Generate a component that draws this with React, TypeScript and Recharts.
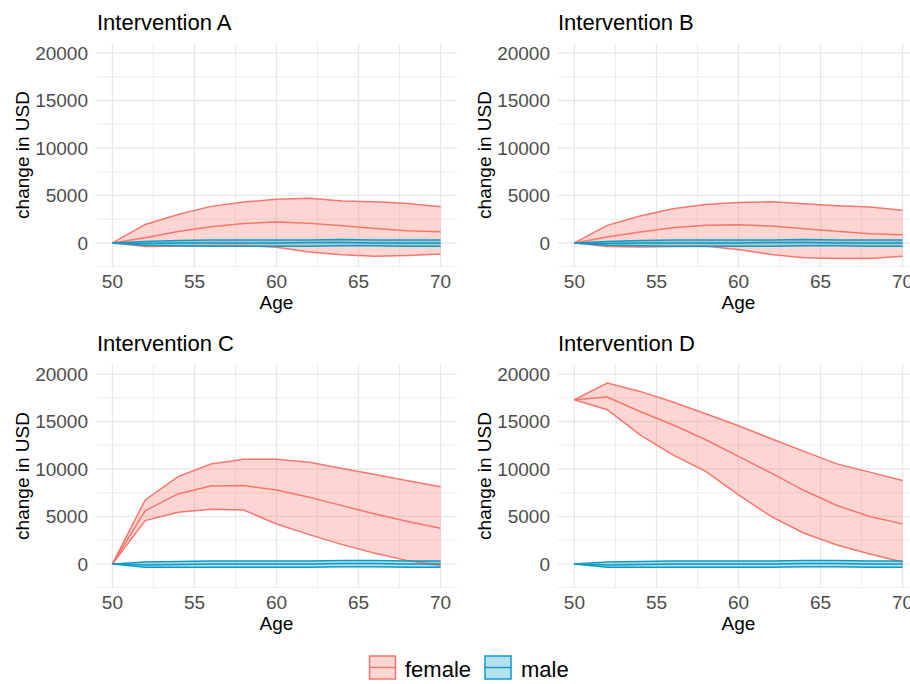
import React from 'react';
import { ComposedChart, Area, Line, XAxis, YAxis, CartesianGrid } from 'recharts';

const ages = [50, 52, 54, 56, 58, 60, 62, 64, 66, 68, 70];
const xTicks = [50, 55, 60, 65, 70];
const xMinor = [52.5, 57.5, 62.5, 67.5];
const yTicks = [0, 5000, 10000, 15000, 20000];
const yMinor = [-2500, 2500, 7500, 12500, 17500];
const panelTitles = ['Intervention A', 'Intervention B', 'Intervention C', 'Intervention D'];
const legendLabels = ['female', 'male'];

// Intervention A
const femaleUpperA = [0, 1950, 3000, 3850, 4300, 4600, 4700, 4420, 4330, 4150, 3800];
const femaleMedianA = [0, 550, 1200, 1700, 2050, 2200, 2080, 1800, 1530, 1280, 1180];
const femaleLowerA = [0, -380, -340, -300, -270, -450, -950, -1250, -1400, -1330, -1170];
const maleUpperA = [0, 150, 250, 300, 300, 300, 300, 350, 300, 300, 300];
const maleMedianA = [0, -50, 0, 0, 0, 0, 50, 50, 0, 0, 0];
const maleLowerA = [0, -250, -300, -350, -350, -350, -350, -300, -300, -350, -350];

// Intervention B
const femaleUpperB = [0, 1850, 2830, 3600, 4060, 4270, 4340, 4130, 3920, 3780, 3430];
const femaleMedianB = [0, 630, 1150, 1610, 1850, 1920, 1780, 1500, 1220, 980, 870];
const femaleLowerB = [0, -380, -420, -380, -350, -700, -1220, -1570, -1640, -1640, -1400];
const maleUpperB = [0, 150, 250, 300, 300, 300, 300, 350, 300, 300, 300];
const maleMedianB = [0, -50, 0, 0, 0, 0, 50, 50, 0, 0, 0];
const maleLowerB = [0, -250, -300, -350, -350, -350, -350, -300, -300, -350, -350];

// Intervention C
const femaleUpperC = [0, 6740, 9190, 10530, 11020, 11020, 10700, 10050, 9420, 8770, 8140];
const femaleMedianC = [0, 5610, 7370, 8210, 8250, 7790, 7020, 6140, 5260, 4460, 3750];
const femaleLowerC = [0, 4560, 5440, 5750, 5680, 4210, 3090, 2035, 1120, 350, -175];
const maleUpperC = [0, 200, 250, 300, 300, 300, 300, 350, 350, 300, 300];
const maleMedianC = [0, -100, -50, 0, 0, 0, 0, 50, 50, 0, 0];
const maleLowerC = [0, -350, -350, -350, -350, -350, -350, -300, -300, -350, -350];

// Intervention D
const femaleUpperD = [17290, 19050, 18170, 17050, 15820, 14550, 13180, 11850, 10540, 9670, 8790];
const femaleMedianD = [17290, 17570, 16060, 14660, 13080, 11320, 9560, 7730, 6150, 4990, 4220];
const femaleLowerD = [17290, 16240, 13600, 11490, 9740, 7280, 4990, 3230, 2000, 1050, 200];
const maleUpperD = [0, 200, 250, 300, 300, 300, 300, 350, 350, 300, 300];
const maleMedianD = [0, -100, -50, 0, 0, 0, 0, 50, 50, 0, 0];
const maleLowerD = [0, -350, -350, -350, -350, -350, -350, -300, -300, -350, -350];

const FEMALE = '#F8766D';
const MALE = '#0B9CC6';
const FONT = '"Liberation Sans", Arial, Helvetica, sans-serif';

function build(fu: number[], fm: number[], fl: number[], mu: number[], mm: number[], ml: number[]) {
  return ages.map((age, i) => ({
    age,
    fHigh: fu[i],
    fMed: fm[i],
    fLow: fl[i],
    fRange: [fl[i], fu[i]],
    mHigh: mu[i],
    mMed: mm[i],
    mLow: ml[i],
    mRange: [ml[i], mu[i]],
  }));
}

const panels = [
  { data: build(femaleUpperA, femaleMedianA, femaleLowerA, maleUpperA, maleMedianA, maleLowerA), left: 0, top: 0 },
  { data: build(femaleUpperB, femaleMedianB, femaleLowerB, maleUpperB, maleMedianB, maleLowerB), left: 462, top: 0 },
  { data: build(femaleUpperC, femaleMedianC, femaleLowerC, maleUpperC, maleMedianC, maleLowerC), left: 0, top: 321 },
  { data: build(femaleUpperD, femaleMedianD, femaleLowerD, maleUpperD, maleMedianD, maleLowerD), left: 462, top: 321 },
];

function Panel({ data, left, top }: any) {
  const lineProps = { type: 'linear' as const, dot: false, activeDot: false, isAnimationActive: false, strokeWidth: 1.5 };
  return (
    <div style={{ position: 'absolute', left, top, width: 460, height: 320 }}>
      <ComposedChart width={460} height={320} data={data} margin={{ top: 43, right: 3, bottom: 0, left: 0 }}>
        <CartesianGrid stroke="#EDEDED" strokeWidth={1} horizontalValues={yMinor} verticalValues={xMinor} />
        <CartesianGrid stroke="#E8E8E8" strokeWidth={1.3} horizontalValues={yTicks} verticalValues={xTicks} />
        <XAxis
          dataKey="age"
          type="number"
          domain={[49, 71]}
          ticks={xTicks}
          allowDataOverflow
          axisLine={false}
          tickLine={false}
          height={53}
          tick={{ fill: '#4D4D4D', fontSize: 19 }}
          label={{ value: 'Age', position: 'insideBottom', offset: 11, fill: '#000', fontSize: 19 }}
        />
        <YAxis
          type="number"
          domain={[-2534, 21056]}
          ticks={yTicks}
          allowDataOverflow
          axisLine={false}
          tickLine={false}
          width={96}
          tick={{ fill: '#4D4D4D', fontSize: 19 }}
          label={{ value: 'change in USD', angle: -90, position: 'insideLeft', offset: 22, fill: '#000', fontSize: 19, style: { textAnchor: 'middle' } }}
        />
        <Area dataKey="fRange" type="linear" stroke="none" fill={FEMALE} fillOpacity={0.3} isAnimationActive={false} activeDot={false} />
        <Line dataKey="fHigh" stroke={FEMALE} {...lineProps} />
        <Line dataKey="fMed" stroke={FEMALE} {...lineProps} />
        <Line dataKey="fLow" stroke={FEMALE} {...lineProps} />
        <Area dataKey="mRange" type="linear" stroke="none" fill={MALE} fillOpacity={0.3} isAnimationActive={false} activeDot={false} />
        <Line dataKey="mHigh" stroke={MALE} {...lineProps} />
        <Line dataKey="mMed" stroke={MALE} {...lineProps} />
        <Line dataKey="mLow" stroke={MALE} {...lineProps} />
      </ComposedChart>
    </div>
  );
}

export default function App() {
  const titlePos = [
    { x: 97, y: 30 },
    { x: 558, y: 30 },
    { x: 97, y: 351 },
    { x: 558, y: 351 },
  ];
  return (
    <div style={{ position: 'absolute', left: 0, top: 0, width: 910, height: 684, overflow: 'hidden', background: '#fff', fontFamily: FONT }}>
      {panels.map((p, i) => (
        <Panel key={i} data={p.data} left={p.left} top={p.top} />
      ))}
      <svg width={910} height={684} style={{ position: 'absolute', left: 0, top: 0, pointerEvents: 'none' }}>
        {panelTitles.map((t, i) => (
          <text key={t} x={titlePos[i].x} y={titlePos[i].y} fontSize={22} fill="#000" fontFamily={FONT}>
            {t}
          </text>
        ))}
        <g>
          <rect x={369.5} y={656} width={26} height={23} fill={FEMALE} fillOpacity={0.3} stroke={FEMALE} strokeWidth={1.5} />
          <line x1={369.5} x2={395.5} y1={667.5} y2={667.5} stroke={FEMALE} strokeWidth={1.4} />
          <text x={405} y={677} fontSize={22} fill="#000" fontFamily={FONT}>{legendLabels[0]}</text>
          <rect x={485} y={656} width={26} height={23} fill={MALE} fillOpacity={0.3} stroke={MALE} strokeWidth={1.5} />
          <line x1={485} x2={511} y1={667.5} y2={667.5} stroke={MALE} strokeWidth={1.4} />
          <text x={521} y={677} fontSize={22} fill="#000" fontFamily={FONT}>{legendLabels[1]}</text>
        </g>
      </svg>
    </div>
  );
}
